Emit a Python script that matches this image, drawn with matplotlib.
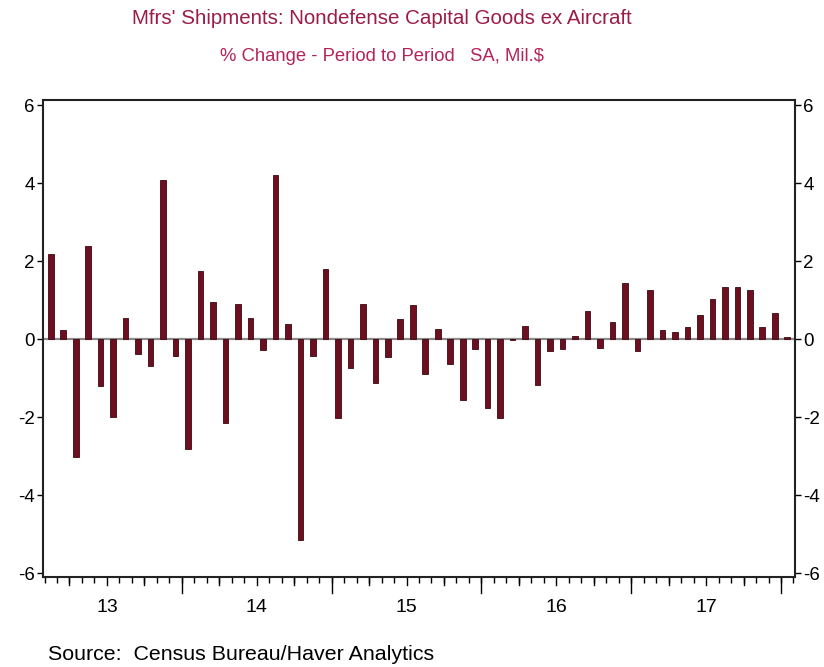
import numpy as np
import matplotlib
matplotlib.use("Agg")
import matplotlib.pyplot as plt

# Monthly % change, Feb 2013 .. Jan 2018
months = np.arange(1, 61)  # months since Jan 2013
pct_change = [
    2.17, 0.24, -3.02, 2.40, -1.21, -2.00, 0.54, -0.37, -0.70, 4.09, -0.44,
    -2.83, 1.74, 0.94, -2.15, 0.91, 0.55, -0.27, 4.21, 0.38, -5.15, -0.43,
    1.79, -2.02, -0.75, 0.91, -1.12, -0.45, 0.51, 0.88, -0.89, 0.27, -0.64,
    -1.55, -0.26, -1.77, -2.02, -0.03, 0.34, -1.19, -0.31, -0.26, 0.09, 0.72,
    -0.24, 0.43, 1.43, -0.31, 1.25, 0.24, 0.17, 0.32, 0.61, 1.04, 1.34,
    1.34, 1.25, 0.30, 0.66, 0.06,
]
year_labels = ["13", "14", "15", "16", "17"]
year_centers = [5.5, 17.5, 29.5, 41.5, 53.5]

plt.rcParams['font.family'] = ['Liberation Sans', 'DejaVu Sans']
plt.rcParams['axes.unicode_minus'] = False

fig = plt.figure(figsize=(8.24, 6.67), dpi=100)
ax = fig.add_axes([0.0522, 0.135, 0.9126, 0.715])

ax.bar(months, pct_change, width=0.45, color="#6e0f1f", edgecolor="#3a0810", linewidth=0.6, zorder=3)
ax.axhline(0, color="#8a8a8a", lw=1.6, zorder=2)

ax.set_xlim(0.38, 60.62)
ax.set_ylim(-6.1, 6.13)

# y axis on both sides, ticks outward
ax.set_yticks([-6, -4, -2, 0, 2, 4, 6])
ax.tick_params(axis="y", which="both", direction="out", length=4, width=1,
               labelsize=13.5, left=True, right=True, labelleft=True, labelright=True, pad=2)

# x axis: monthly ticks at month boundaries, year labels centred in each year
bounds = np.arange(0.5, 61, 1.0)
ax.set_xticks(bounds, minor=True)
ax.set_xticks(year_centers)
ax.set_xticklabels(year_labels, fontsize=14)
ax.tick_params(axis="x", which="major", length=0, pad=16)
ax.tick_params(axis="x", which="minor", direction="out", length=4.5, width=1)

# longer ticks for quarters and years
quarter = [b for b in bounds if int(b + 0.5) % 3 == 0 and int(b + 0.5) % 12 != 0]
years = [b for b in bounds if int(b + 0.5) % 12 == 0]
xt = ax.get_xaxis_transform()
for b in quarter:
    ax.plot([b, b], [0, -0.016], transform=xt, color="k", lw=1, clip_on=False)
for b in years:
    ax.plot([b, b], [0, -0.033], transform=xt, color="k", lw=1, clip_on=False)

for s in ax.spines.values():
    s.set_linewidth(1.5)
    s.set_color("#222222")

fig.text(0.464, 0.973, "Mfrs' Shipments: Nondefense Capital Goods ex Aircraft",
         ha="center", va="center", fontsize=14.8, color="#9b1c45")
fig.text(0.464, 0.916, "% Change - Period to Period   SA, Mil.$",
         ha="center", va="center", fontsize=13.3, color="#b3245a")
fig.text(0.058, 0.018, "Source:  Census Bureau/Haver Analytics",
         ha="left", va="center", fontsize=15.4)

fig.savefig("out.png", dpi=100)
